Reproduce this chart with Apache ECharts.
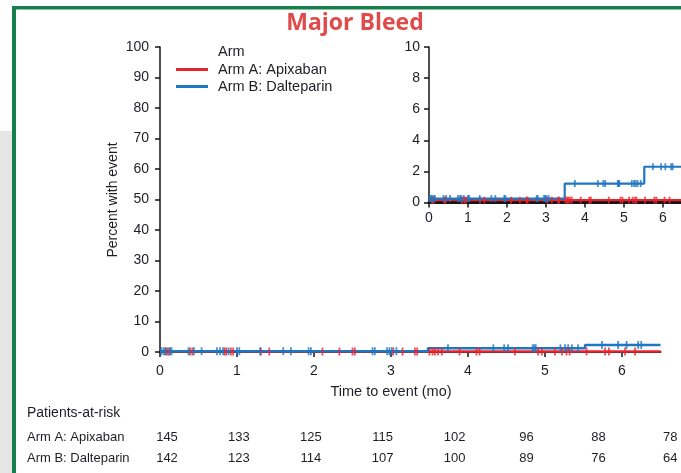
<!DOCTYPE html>
<html>
<head>
<meta charset="utf-8">
<script src="https://cdn.jsdelivr.net/npm/echarts@6/dist/echarts.min.js"></script>
<style>
html,body{margin:0;padding:0;background:#fff;}
#c{width:681px;height:473px;}
</style>
</head>
<body>
<div id="c"></div>
<script>
// ---- Data ----
const armNames = ['Arm A: Apixaban', 'Arm B: Dalteparin'];
// Kaplan-Meier step curves (time in months, percent with event)
const armATimes = [0, 6.5];
const armAValues = [0.15, 0.15];
const armBTimes = [0, 3.48, 5.52, 6.5];
const armBValues = [0.25, 1.22, 2.3, 2.3];
// censoring times
const armACensor = [0.07,0.10,0.12,0.39,0.42,0.84,0.86,0.92,0.95,1.31,1.42,2.11,2.33,2.50,2.53,3.03,3.15,3.31,3.34,3.50,3.54,3.57,3.61,3.66,3.89,4.11,4.15,4.61,4.91,4.96,5.13,5.22,5.28,5.32,5.54,5.78,5.83,6.04,6.17];
const armBCensor = [0.02,0.05,0.08,0.13,0.15,0.37,0.44,0.54,0.74,0.78,0.82,0.89,1.00,1.03,1.30,1.60,1.70,1.93,1.96,2.76,2.79,2.95,2.98,3.01,3.07,3.74,4.33,4.47,4.52,4.84,4.86,4.88,5.20,5.26,5.30,5.35,5.43,5.74,5.95,6.06,6.21,6.25];
// patients at risk
const riskTitle = 'Patients-at-risk';
const riskA = [145, 133, 125, 115, 102, 96, 88, 78];
const riskB = [142, 123, 114, 107, 100, 89, 76, 64];
const mainYTicks = [0, 100, 10];
const insetYTicks = [0, 10, 2];
const xRange = [0, 6.5, 1];

// ---- Styles ----
const RED = '#e5262f';
const BLUE = '#1f76c2';
const TXT = '#1e1e26';
const AX = '#151515';
const FONT = 'Liberation Sans, Arial, sans-serif';

function stepVal(times, vals, t) {
  let v = vals[0];
  for (let i = 0; i < times.length; i++) { if (times[i] <= t) v = vals[i]; }
  return v;
}
function pts(times, vals) { return times.map((t, i) => [t, vals[i]]); }
function cens(ct, times, vals) { return ct.map(t => [t, stepVal(times, vals, t)]); }

function xAxisCfg(gi, margin) {
  return {
    gridIndex: gi, type: 'value', min: xRange[0], max: xRange[1], interval: xRange[2],
    axisLine: { show: true, onZero: false, lineStyle: { color: AX, width: gi === 0 ? 2 : 3 } },
    axisTick: { show: true, length: 5, lineStyle: { color: AX, width: 1.5 } },
    axisLabel: { color: TXT, fontSize: 14, fontFamily: FONT, margin: margin, showMaxLabel: false,
      formatter: v => (Math.abs(v - Math.round(v)) < 1e-9 ? String(Math.round(v)) : '') },
    splitLine: { show: false }
  };
}
function yAxisCfg(gi, t, margin) {
  return {
    gridIndex: gi, type: 'value', min: t[0], max: t[1], interval: t[2],
    axisLine: { show: true, lineStyle: { color: AX, width: 1.5 } },
    axisTick: { show: true, length: 5, lineStyle: { color: AX, width: 1.5 } },
    axisLabel: { color: TXT, fontSize: 14, fontFamily: FONT, margin: margin },
    splitLine: { show: false }
  };
}

const series = [];
[[0, 2.5, 8], [1, 2.2, 7]].forEach(([gi, lw, ms]) => {
  series.push({
    name: armNames[0], type: 'line', xAxisIndex: gi, yAxisIndex: gi, step: 'end',
    data: pts(armATimes, armAValues), symbol: 'none', lineStyle: { color: RED, width: lw },
    itemStyle: { color: RED }, z: 3, animation: false
  });
  series.push({
    name: armNames[1], type: 'line', xAxisIndex: gi, yAxisIndex: gi, step: 'end',
    data: pts(armBTimes, armBValues), symbol: 'none', lineStyle: { color: BLUE, width: lw },
    itemStyle: { color: BLUE }, z: 3, animation: false
  });
  series.push({
    name: armNames[0] + ' censored', type: 'scatter', xAxisIndex: gi, yAxisIndex: gi,
    data: cens(armACensor, armATimes, armAValues), symbol: 'rect', symbolSize: [1.8, ms],
    itemStyle: { color: RED }, z: 4, animation: false, silent: true
  });
  series.push({
    name: armNames[1] + ' censored', type: 'scatter', xAxisIndex: gi, yAxisIndex: gi,
    data: cens(armBCensor, armBTimes, armBValues), symbol: 'rect', symbolSize: [1.8, ms],
    itemStyle: { color: BLUE }, z: 4, animation: false, silent: true
  });
});

const graphics = [
  { type: 'rect', shape: { x: 0, y: 131, width: 12, height: 342 }, style: { fill: '#e6e6e6' }, z: -10 },
  { type: 'rect', shape: { x: 12, y: 6, width: 4, height: 467 }, style: { fill: '#177f4b' }, z: -5 },
  { type: 'rect', shape: { x: 12, y: 6, width: 669, height: 3.5 }, style: { fill: '#177f4b' }, z: -5 },
  { type: 'text', x: 355, y: 23, style: { text: 'Major Bleed', fill: '#e04a4a', font: 'bold 23px "Open Sans", sans-serif', textAlign: 'center', textVerticalAlign: 'middle' } },
  { type: 'text', x: 218, y: 52, style: { text: 'Arm', fill: TXT, font: '14.5px ' + FONT, textAlign: 'left', textVerticalAlign: 'middle' } },
  { type: 'text', x: 113, y: 200, rotation: Math.PI / 2, style: { text: 'Percent with event', fill: TXT, font: '14px ' + FONT, textAlign: 'center', textVerticalAlign: 'middle' } },
  { type: 'text', x: 391, y: 392, style: { text: 'Time to event (mo)', fill: TXT, font: '14.5px ' + FONT, textAlign: 'center', textVerticalAlign: 'middle' } },
  { type: 'text', x: 27, y: 413, style: { text: riskTitle, fill: TXT, font: '14px ' + FONT, textAlign: 'left', textVerticalAlign: 'middle' } },
  { type: 'text', x: 27, y: 437, style: { text: armNames[0], fill: TXT, font: '13px ' + FONT, textAlign: 'left', textVerticalAlign: 'middle' } },
  { type: 'text', x: 27, y: 458, style: { text: armNames[1], fill: TXT, font: '13px ' + FONT, textAlign: 'left', textVerticalAlign: 'middle' } }
];
riskA.forEach((v, i) => graphics.push({ type: 'text', x: 167 + i * 71.9, y: 437, style: { text: String(v), fill: TXT, font: '13px ' + FONT, textAlign: 'center', textVerticalAlign: 'middle' } }));
riskB.forEach((v, i) => graphics.push({ type: 'text', x: 167 + i * 71.9, y: 458, style: { text: String(v), fill: TXT, font: '13px ' + FONT, textAlign: 'center', textVerticalAlign: 'middle' } }));

const chart = echarts.init(document.getElementById('c'), null, { renderer: 'canvas' });
chart.setOption({
  animation: false,
  backgroundColor: '#ffffff',
  grid: [
    { left: 160, top: 47, width: 500.5, height: 305, outerBoundsMode: 'none', containLabel: false },
    { left: 429, top: 47, width: 253.5, height: 155.5, outerBoundsMode: 'none', containLabel: false }
  ],
  xAxis: [xAxisCfg(0, 12), xAxisCfg(1, 9)],
  yAxis: [yAxisCfg(0, mainYTicks, 11), yAxisCfg(1, insetYTicks, 9)],
  legend: {
    data: armNames, orient: 'vertical', left: 176, top: 62, itemWidth: 32, itemHeight: 3,
    itemGap: 2, icon: 'rect', padding: 0,
    textStyle: { color: TXT, fontSize: 14.5, fontFamily: FONT, padding: [0, 0, 0, 5] }
  },
  series: series,
  graphic: graphics
});
</script>
</body>
</html>
